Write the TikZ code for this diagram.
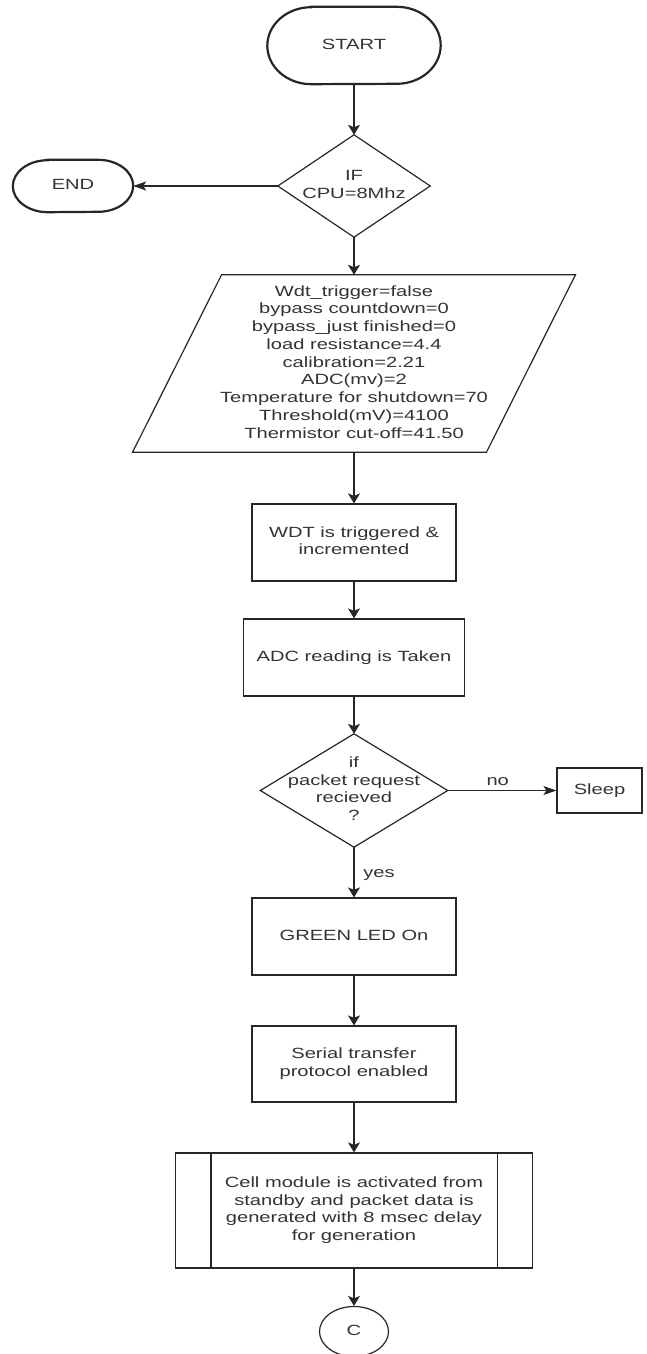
\documentclass[tikz,border=0pt]{standalone}
\usepackage{fontspec}
\setmainfont{Liberation Sans}
\usetikzlibrary{shapes.geometric,arrows.meta}
\newcommand{\tx}[1]{\scalebox{1.36}[1]{\begin{tabular}{@{}c@{}}#1\end{tabular}}}
\begin{document}
\begin{tikzpicture}[x=1pt,y=1pt,
  every node/.style={font=\fontsize{14.8}{17.75}\selectfont, text=black!80, inner sep=0pt},
  shp/.style={draw=black!85, line width=1.2pt},
  term/.style={draw=black!85, line width=2.2pt},
  varr/.style={draw=black!85, line width=1.2pt, -{Stealth[length=10pt,width=12pt,inset=2.5pt]}},
  harr/.style={draw=black!85, line width=1.2pt, -{Stealth[length=13pt,width=9pt,inset=3pt]}}]
\fill[white] (0,0) rectangle (646,-1354);
\clip (0,0) rectangle (646,-1354);

% nodes
\node[minimum width=173pt, minimum height=77pt] (start) at (354,-45.5) {\tx{START}};
\node[minimum width=152pt, minimum height=102pt] (if1) at (354,-186) {\tx{IF\\CPU=8Mhz}};
\node[minimum width=120pt, minimum height=52pt] (endn) at (73,-186) {\tx{END}};
\node[minimum width=353.5pt, minimum height=177pt] (param) at (354,-363.5) {\tx{Wdt\_trigger=false\\bypass countdown=0\\bypass\_just finished=0\\load resistance=4.4\\calibration=2.21\\ADC(mv)=2\\Temperature for shutdown=70\\Threshold(mV)=4100\\Thermistor cut-off=41.50}};
\node[shp, minimum width=204pt, minimum height=77pt] (wdt) at (354,-542.5) {\tx{WDT is triggered \&\\incremented}};
\node[shp, minimum width=221pt, minimum height=77pt] (adc) at (354,-657.5) {\tx{ADC reading is Taken}};
\node[minimum width=187pt, minimum height=113pt] (if2) at (354,-790.5) {\tx{if\\packet request\\recieved\\?}};
\node[shp, minimum width=85pt, minimum height=45pt] (sleep) at (599.5,-790.5) {\tx{Sleep}};
\node[shp, minimum width=204pt, minimum height=77pt] (led) at (354,-936.5) {\tx{GREEN LED On}};
\node[shp, minimum width=204pt, minimum height=76pt] (serial) at (354,-1064) {\tx{Serial transfer\\protocol enabled}};
\node[shp, minimum width=357pt, minimum height=115pt] (cell) at (354,-1210.5) {\tx{Cell module is activated from\\standby and packet data is\\generated with 8 msec delay\\for generation}};
\node[shp, ellipse, minimum width=69pt, minimum height=50pt] (conn) at (354,-1331.5) {\tx{C}};

% outlines
\draw[term] ([xshift=44pt]start.north west) -- ([xshift=-44pt]start.north east)
  arc[start angle=90, end angle=-90, x radius=44pt, y radius=38.5pt]
  -- ([xshift=44pt]start.south west)
  arc[start angle=270, end angle=90, x radius=44pt, y radius=38.5pt] -- cycle;
\draw[term] ([xshift=35pt]endn.north west) -- ([xshift=-35pt]endn.north east)
  arc[start angle=90, end angle=-90, x radius=35pt, y radius=26pt]
  -- ([xshift=35pt]endn.south west)
  arc[start angle=270, end angle=90, x radius=35pt, y radius=26pt] -- cycle;
\draw[shp] (if1.north) -- (if1.east) -- (if1.south) -- (if1.west) -- cycle;
\draw[shp] (if2.north) -- (if2.east) -- (if2.south) -- (if2.west) -- cycle;
\draw[shp] ([xshift=44.5pt]param.north west) -- ([xshift=44.5pt]param.north east)
  -- ([xshift=-44.5pt]param.south east) -- ([xshift=-44.5pt]param.south west) -- cycle;
\draw[shp] ([xshift=36pt]cell.north west) -- ([xshift=36pt]cell.south west);
\draw[shp] ([xshift=-36pt]cell.north east) -- ([xshift=-36pt]cell.south east);

% connectors
\draw[varr] (start.south) -- (if1.north);
\draw[harr] (if1.west) -- (endn.east);
\draw[varr] (if1.south) -- (param.north);
\draw[varr] (param.south) -- (wdt.north);
\draw[varr] (wdt.south) -- (adc.north);
\draw[varr] (adc.south) -- (if2.north);
\draw[harr] (if2.east) -- node[pos=0.46, yshift=9pt] {\tx{no}} (sleep.west);
\draw[varr] (if2.south) -- node[pos=0.53, xshift=25pt] {\tx{yes}} (led.north);
\draw[varr] (led.south) -- (serial.north);
\draw[varr] (serial.south) -- (cell.north);
\draw[varr] (cell.south) -- (conn.north);
\end{tikzpicture}
\end{document}
